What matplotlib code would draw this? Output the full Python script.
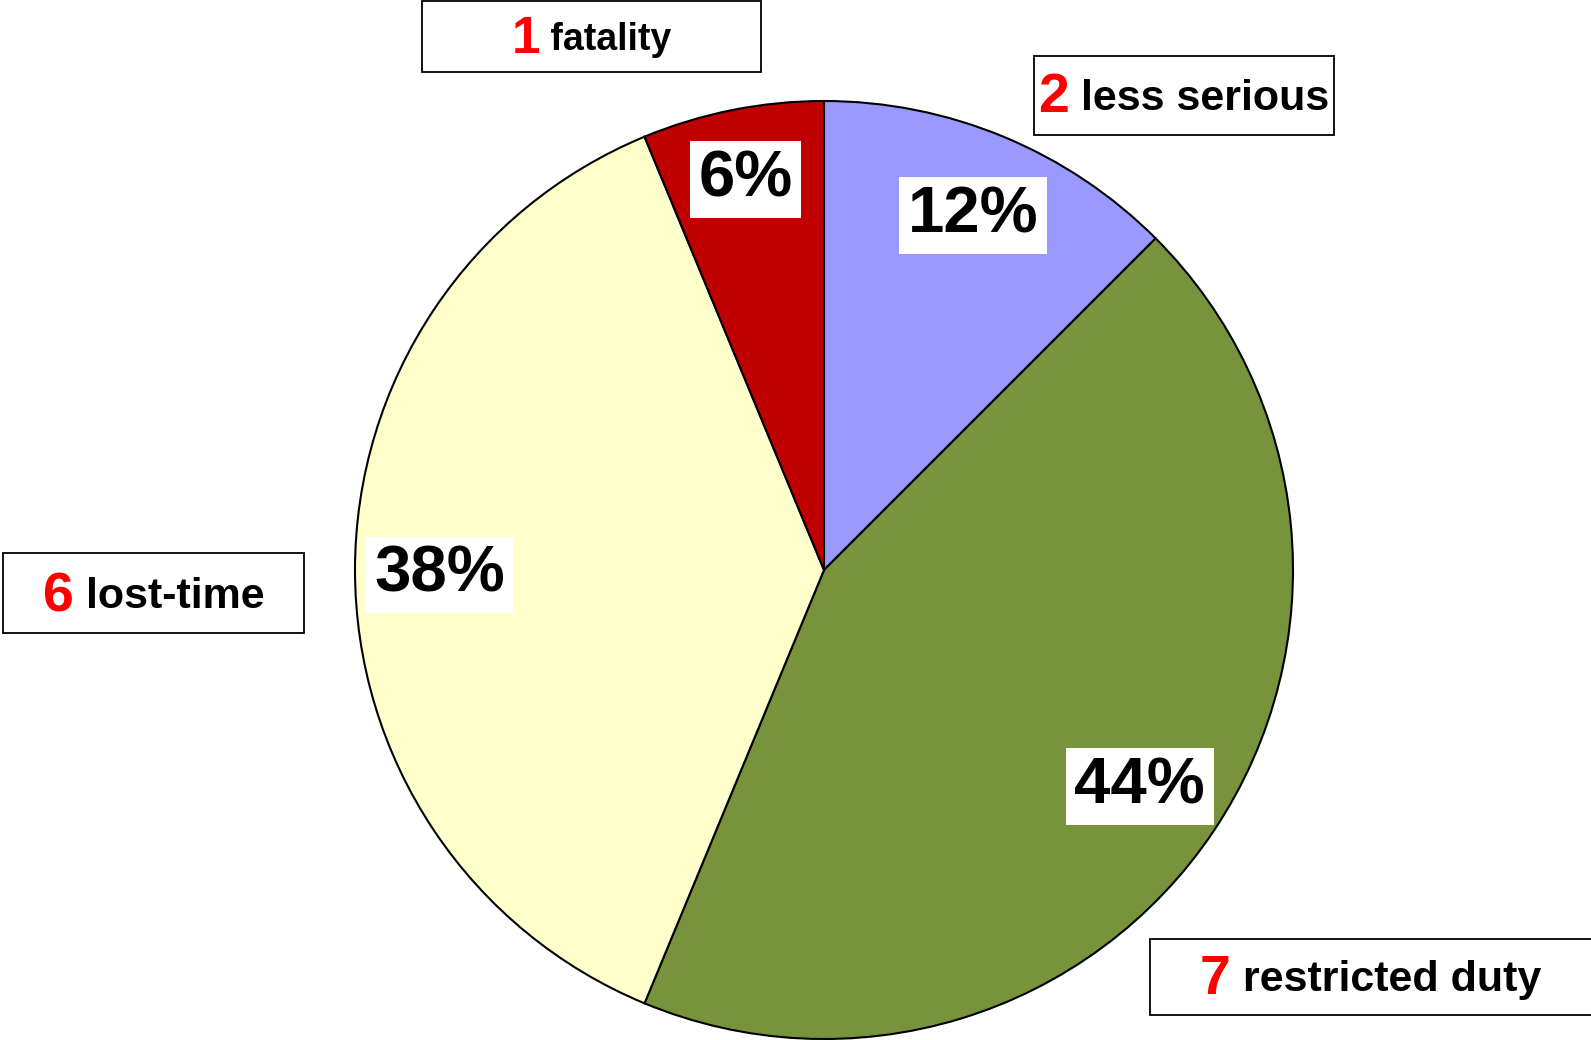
import matplotlib
matplotlib.use("Agg")
import numpy as np
import matplotlib.pyplot as plt
from matplotlib.patches import Rectangle

plt.rcParams["font.family"] = ["Liberation Sans", "DejaVu Sans"]

# data, in the clockwise order starting at 12 o'clock
categories = ["less serious", "restricted duty", "lost-time", "fatality"]
counts = [2, 7, 6, 1]
colors = ["#9999FF", "#77933C", "#FFFFCC", "#C00000"]

W, H = 1591, 1040
CX, CY, R = 824, H - 570, 469
# radial position of each percentage label, as a fraction of the radius
pct_dist = [0.83, 0.81, 0.82, 0.86]

fig = plt.figure(figsize=(W / 100, H / 100), dpi=100)
ax = fig.add_axes([0, 0, 1, 1])

wedges, texts, autotexts = ax.pie(
    counts, colors=colors, startangle=90, counterclock=False,
    center=(CX, CY), radius=R, autopct="%.0f%%", pctdistance=0.83,
    wedgeprops=dict(edgecolor="black", linewidth=1.5),
    textprops=dict(fontsize=47, fontweight="bold", color="black"),
    frame=True,
)
ax.set_xlim(0, W)
ax.set_ylim(0, H)
ax.set_aspect("equal")
ax.axis("off")
for w, t, d in zip(wedges, autotexts, pct_dist):
    mid = np.deg2rad((w.theta1 + w.theta2) / 2)
    t.set_position((CX + d * R * np.cos(mid), CY + d * R * np.sin(mid) - 5))
    t.set_bbox(dict(boxstyle="square,pad=0.13", facecolor="white", edgecolor="none"))

# label boxes: x0, top, x1, bottom in pixels from the top-left corner,
# vertical nudge, then font sizes of the red count and the black name
label_boxes = {
    "fatality": (422, 1, 761, 72, -3, 37, 27),
    "less serious": (1034, 56, 1334, 135, -3, 40, 31),
    "lost-time": (3, 553, 304, 633, -4, 40, 31),
    "restricted duty": (1150, 939, 1600, 1015, -3, 40, 31),
}

fig.canvas.draw()
r = fig.canvas.get_renderer()
for name, n in zip(categories, counts):
    x0, y0, x1, y1, dy, fs_num, fs_lab = label_boxes[name]
    ax.add_patch(Rectangle((x0, H - y1), x1 - x0, y1 - y0, facecolor="white",
                           edgecolor="black", linewidth=1.3, zorder=5))
    cx = (x0 + min(x1, W)) / 2
    cy = H - (y0 + y1) / 2 + dy
    t_num = ax.text(0, cy, str(n), color="#FF0000", fontsize=fs_num,
                    fontweight="bold", ha="left", va="center", zorder=6)
    t_lab = ax.text(0, cy, " " + name, color="black", fontsize=fs_lab,
                    fontweight="bold", ha="left", va="center", zorder=6)
    w_num = t_num.get_window_extent(r).width
    w_lab = t_lab.get_window_extent(r).width
    start = cx - (w_num + w_lab) / 2
    t_num.set_x(start)
    t_lab.set_x(start + w_num)

fig.savefig("out.png", dpi=100)
